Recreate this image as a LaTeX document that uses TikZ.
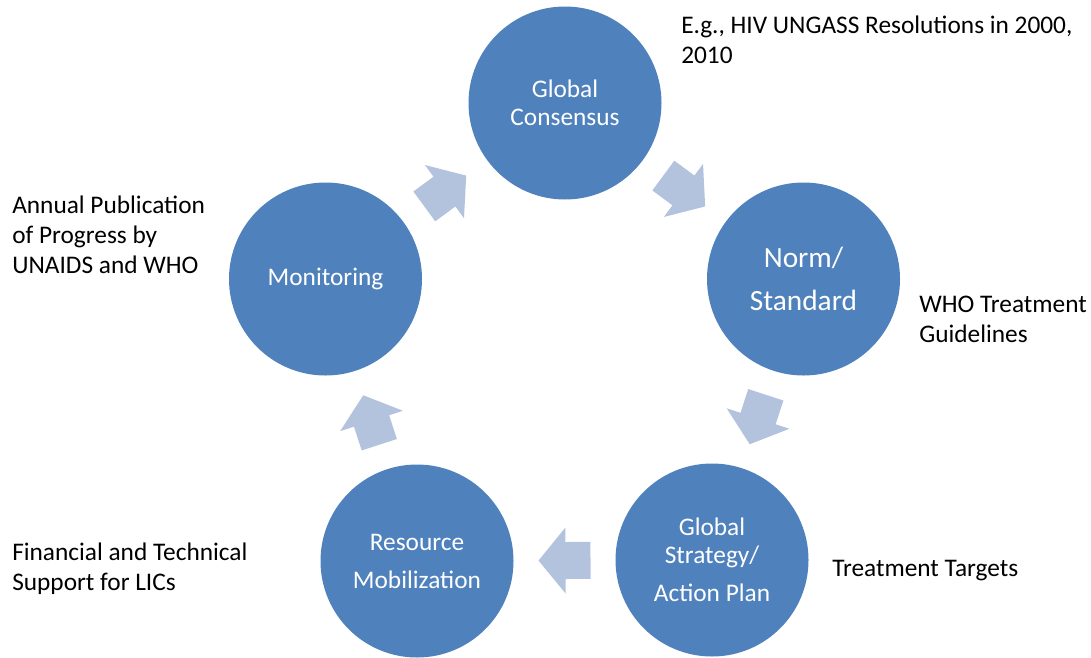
\documentclass[tikz,border=0pt]{standalone}
\usepackage{fontspec}
\setmainfont{Carlito}
\usetikzlibrary{calc}
\definecolor{cblue}{RGB}{79,129,189}
\definecolor{afill}{RGB}{179,195,222}
\newcommand\cyclearrowbetween[2]{%
  \path let \p1=($(#2)-(#1)$), \n1={atan2(\y1,\x1)} in
    ($(#1)!0.5!(#2)$) pic[rotate=\n1] {cyclearrow};}
\begin{document}
\begin{tikzpicture}[x=0.75pt,y=-0.75pt,
  stage/.style={circle, fill=cblue, draw=none, minimum size=144.75pt,
    inner sep=0pt, text=white, align=center,
    font=\fontsize{19}{21}\selectfont},
  note/.style={anchor=north west, inner sep=0pt, align=left,
    font=\fontsize{19}{22.5}\selectfont},
  cyclearrow/.pic={\fill[afill] (-26,-18.5) -- (-1,-18.5) -- (-1,-33) -- (26,0)
    -- (-1,33) -- (-1,18.5) -- (-26,18.5) -- cycle;}
]
\useasboundingbox (0,0) rectangle (1091,657);

\node[stage] (gc) at (565,103) {Global\\Consensus};
\node[stage, font=\fontsize{22}{32}\selectfont] (ns) at (803.5,279) {Norm/\\Standard};
\node[stage] (gs) at (712,560) {Global\\Strategy/\\[7.5pt]Action Plan};
\node[stage] (rm) at (417,561) {Resource\\[7.5pt]Mobilization};
\node[stage] (mo) at (325.5,279) {Monitoring};

\cyclearrowbetween{gc}{ns}
\cyclearrowbetween{ns}{gs}
\cyclearrowbetween{gs}{rm}
\cyclearrowbetween{rm}{mo}
\cyclearrowbetween{mo}{gc}

\node[note] (n1) at (681,16) {E.g., HIV UNGASS Resolutions in 2000,\\2010};
\node[note] (n2) at (12,196) {Annual Publication\\of Progress by\\UNAIDS and WHO};
\node[note] (n3) at (919,296) {WHO Treatment\\Guidelines};
\node[note] (n4) at (832,560) {Treatment Targets};
\node[note] (n5) at (12,543) {Financial and Technical\\Support for LICs};
\end{tikzpicture}
\end{document}
